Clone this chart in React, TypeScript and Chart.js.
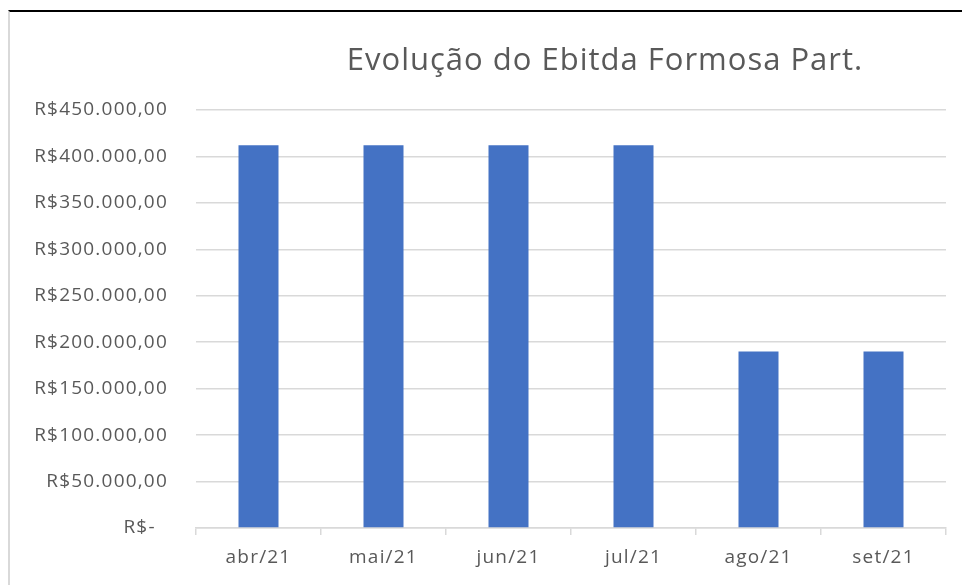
import React, { useEffect, useRef } from "react";
import { Chart, registerables } from "chart.js";

Chart.register(...registerables);

const categories = ["abr/21", "mai/21", "jun/21", "jul/21", "ago/21", "set/21"];
const ebitdaValues = [412000, 412000, 412000, 412000, 190000, 190000];
const yTickValues = [0, 50000, 100000, 150000, 200000, 250000, 300000, 350000, 400000, 450000];
const yTickLabels = [
  "R$-  ",
  "R$50.000,00",
  "R$100.000,00",
  "R$150.000,00",
  "R$200.000,00",
  "R$250.000,00",
  "R$300.000,00",
  "R$350.000,00",
  "R$400.000,00",
  "R$450.000,00",
];
const chartTitle = "Evolução do Ebitda Formosa Part.";

const FONT = "'Open Sans', 'Noto Sans', sans-serif";
const TEXT = "#595959";
const GRID = "#d9d9d9";

const spacingPlugin = {
  id: "letterSpacing",
  beforeDraw(chart: any) {
    chart.ctx.letterSpacing = "1.2px";
  },
};

export default function App() {
  const canvasRef = useRef<HTMLCanvasElement | null>(null);

  useEffect(() => {
    const canvas = canvasRef.current;
    if (!canvas) return;
    const chart = new Chart(canvas, {
      type: "bar",
      data: {
        labels: categories,
        datasets: [
          {
            label: "Ebitda",
            data: ebitdaValues,
            backgroundColor: "#4472C4",
            borderWidth: 0,
            categoryPercentage: 1,
            barPercentage: 0.32,
          },
        ],
      },
      plugins: [spacingPlugin],
      options: {
        responsive: false,
        maintainAspectRatio: false,
        animation: false,
        layout: { padding: { left: 10, right: 16, top: 110, bottom: 0 } },
        plugins: {
          legend: { display: false },
          title: { display: false },
          tooltip: { enabled: false },
        },
        scales: {
          x: {
            offset: true,
            grid: {
              offset: true,
              drawOnChartArea: false,
              drawTicks: true,
              tickLength: 7,
              color: GRID,
              lineWidth: 1.5,
            },
            border: { display: true, color: GRID, width: 1.5 },
            ticks: {
              color: TEXT,
              font: { family: FONT, size: 19 },
              padding: 11,
              maxRotation: 0,
            },
            afterFit: (scale: any) => {
              scale.height = 57;
            },
          },
          y: {
            min: 0,
            max: 450000,
            afterBuildTicks: (scale: any) => {
              scale.ticks = yTickValues.map((v) => ({ value: v }));
            },
            grid: {
              drawTicks: false,
              color: GRID,
              lineWidth: 1.5,
            },
            border: { display: false },
            ticks: {
              color: TEXT,
              font: { family: FONT, size: 19 },
              padding: 28,
              callback: (value: any) => {
                const i = yTickValues.indexOf(Number(value));
                return i >= 0 ? yTickLabels[i] : "";
              },
            },
            afterFit: (scale: any) => {
              scale.width = 186;
            },
          },
        },
      },
    });
    return () => chart.destroy();
  }, []);

  return (
    <div
      style={{
        position: "fixed",
        left: 0,
        top: 0,
        width: 962,
        height: 585,
        background: "#ffffff",
        overflow: "hidden",
      }}
    >
      <div
        style={{
          position: "absolute",
          left: 8,
          top: 10,
          width: 960,
          height: 580,
          borderTop: "2px solid #000000",
          borderLeft: "2px solid #d9d9d9",
          boxSizing: "border-box",
        }}
      />
      <canvas
        ref={canvasRef}
        width={962}
        height={585}
        style={{ position: "absolute", left: 0, top: 0, width: 962, height: 585 }}
      />
      <div
        style={{
          position: "absolute",
          left: 305,
          top: 38,
          width: 600,
          textAlign: "center",
          whiteSpace: "nowrap",
          fontFamily: FONT,
          fontSize: 31,
          letterSpacing: "1px",
          lineHeight: "40px",
          color: TEXT,
        }}
      >
        {chartTitle}
      </div>
    </div>
  );
}
